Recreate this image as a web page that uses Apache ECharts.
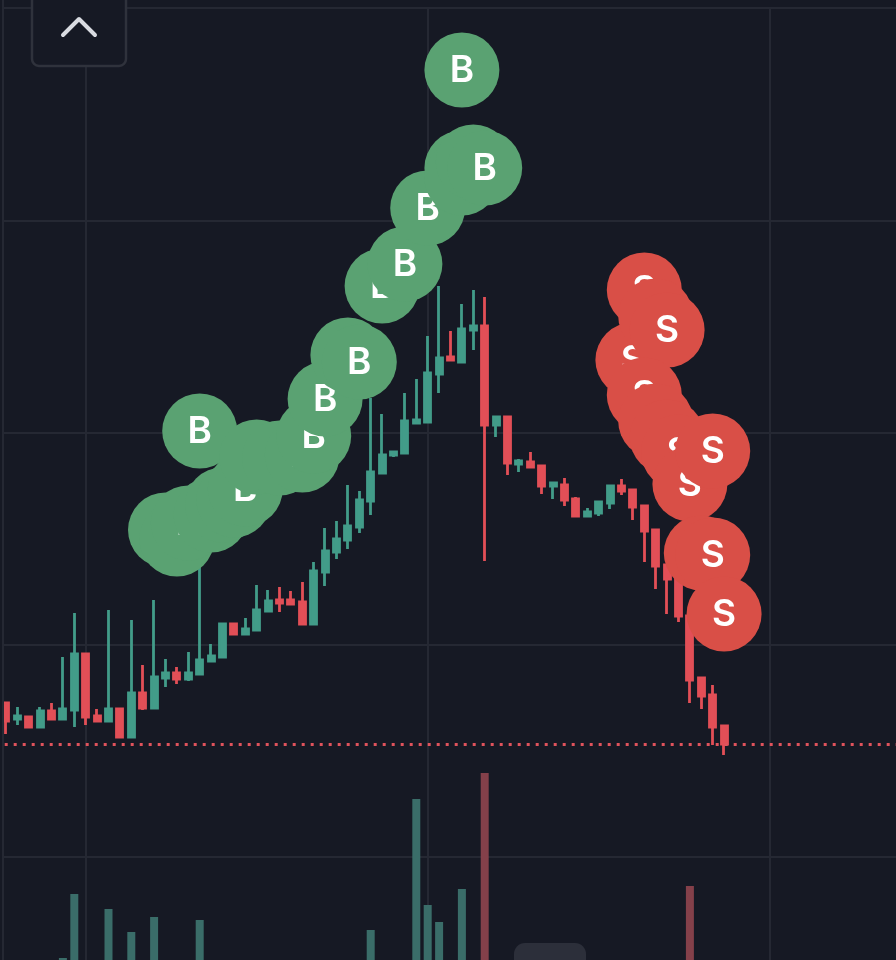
<!DOCTYPE html>
<html>
<head>
<meta charset="utf-8">
<style>
  html, body { margin: 0; padding: 0; background: #161924; }
  #chart { width: 896px; height: 960px; }
</style>
<script src="https://cdn.jsdelivr.net/npm/echarts@6/dist/echarts.min.js"></script>
</head>
<body>
<div id="chart"></div>
<script>
// candles, one entry per bar
var opens = [154, 138, 140, 130, 146, 138, 147, 203, 141, 136, 148, 120, 164, 149, 179, 184, 178, 183, 196, 200, 233, 223, 227, 246, 257, 257, 255, 233, 285, 305, 317, 330, 356, 384, 402, 404, 434, 435, 483, 500, 495, 527, 531, 432, 440, 393, 395, 391, 371, 372, 358, 341, 344, 354, 371, 367, 351, 327, 292, 279, 241, 179, 162, 131];
var closes = [136, 141, 130, 146, 138, 148, 203, 140, 136, 148, 120, 164, 149, 180, 184, 178, 184, 197, 201, 233, 223, 228, 247, 256, 254, 253, 233, 286, 306, 318, 331, 357, 385, 402, 405, 436, 437, 484, 499, 497, 528, 531, 432, 440, 394, 396, 390, 371, 374, 357, 341, 345, 355, 371, 366, 350, 326, 291, 278, 241, 177, 161, 130, 113];
var lows = [123, 132, 130, 130, 138, 138, 130, 132, 136, 136, 120, 120, 147, 149, 170, 173, 176, 183, 196, 200, 223, 222, 226, 246, 245, 252, 233, 233, 271, 298, 308, 324, 342, 383, 400, 404, 433, 435, 464, 497, 495, 507, 296, 420, 382, 385, 390, 363, 358, 351, 341, 341, 341, 348, 362, 337, 295, 268, 243, 235, 154, 148, 112, 102];
var highs = [154, 150, 140, 150, 154, 200, 244, 203, 148, 247, 148, 237, 192, 257, 198, 190, 205, 292, 213, 233, 233, 239, 272, 267, 270, 266, 275, 295, 329, 336, 372, 366, 459, 443, 405, 464, 478, 521, 571, 526, 553, 567, 560, 440, 440, 398, 405, 391, 375, 379, 360, 349, 355, 371, 378, 367, 351, 327, 292, 279, 241, 179, 172, 131];

// volume, only the bars that reach into the picture
var volumes = [null, null, null, null, null, 42, 106, null, null, 91, null, 68, null, 83, null, null, null, 80, null, null, null, null, null, null, null, null, null, null, null, null, null, null, 70, null, null, null, 201, 95, 78, null, 111, null, 227, null, null, null, null, null, null, null, null, null, null, null, null, null, null, null, null, null, 114, null, null, null];

// buy / sell bubbles: bar number and price, in drawing order
var buyBars = [14, 15, 16, 18, 19, 20, 21, 17, 22, 24, 26, 27, 28, 30, 31, 33, 35, 37, 40, 40, 41, 42, 40];
var buyPrices = [327, 318, 334, 342, 352, 357, 368, 426, 400, 399, 402, 421, 458, 502, 495, 571, 593, 649, 689, 679, 695, 689, 787];
var sellBars = [55, 56, 57, 58, 56, 57, 58, 59, 60, 62, 61, 62, 63];
var sellPrices = [497, 567, 541, 527, 462, 436, 420, 405, 373, 406, 304, 302, 243];

var firstBar = 23; // bar number of the first candle on the time axis
var upColor = '#429c89';
var downColor = '#e24f57';

var candleData = opens.map(function (o, i) {
  return [i + firstBar, o, closes[i], lows[i], highs[i]];
});
var volumeData = volumes.map(function (v, i) {
  return {
    value: [i + firstBar, v],
    itemStyle: { color: closes[i] >= opens[i] ? '#3a6d69' : '#84404a' }
  };
});

function bubbleData(bars, prices) {
  return bars.map(function (b, i) {
    return [b + firstBar, prices[i]];
  });
}

// bubbles are drawn one after the other so that later ones cover earlier letters
function bubbleRender(letter, color) {
  return function (params, api) {
    var p = api.coord([api.value(0), api.value(1)]);
    return {
      type: 'group',
      children: [{
        type: 'circle',
        shape: { cx: p[0], cy: p[1], r: 37.5 },
        style: { fill: color }
      }, {
        type: 'text',
        style: {
          x: p[0],
          y: p[1] + 1,
          text: letter,
          fill: '#ffffff',
          font: '600 37px Inter',
          align: 'center',
          verticalAlign: 'middle'
        }
      }]
    };
  };
}

var gridColor = '#252833';
var myChart = echarts.init(document.getElementById('chart'));

var option = {
  animation: false,
  backgroundColor: '#161924',
  grid: [
    { left: -256.3, top: 8, width: 1162.8, height: 1061.25, outerBoundsMode: 'none' },
    { left: -256.3, top: 760, width: 1162.8, height: 240, outerBoundsMode: 'none' }
  ],
  xAxis: [{
    type: 'value',
    gridIndex: 0,
    min: 0,
    max: 102,
    interval: 30,
    axisLine: { show: false },
    axisTick: { show: false },
    axisLabel: { show: false },
    splitLine: { show: true, lineStyle: { color: gridColor, width: 2 } }
  }, {
    type: 'value',
    gridIndex: 1,
    min: 0,
    max: 102,
    interval: 30,
    axisLine: { show: false },
    axisTick: { show: false },
    axisLabel: { show: false },
    splitLine: { show: false }
  }],
  yAxis: [{
    type: 'value',
    gridIndex: 0,
    min: -212.25,
    max: 849,
    interval: 212.25,
    axisLine: { show: false },
    axisTick: { show: false },
    axisLabel: { show: false },
    splitLine: { show: true, lineStyle: { color: gridColor, width: 2 } }
  }, {
    type: 'value',
    gridIndex: 1,
    min: 0,
    max: 240,
    axisLine: { show: false },
    axisTick: { show: false },
    axisLabel: { show: false },
    splitLine: { show: false }
  }],
  series: [{
    type: 'bar',
    xAxisIndex: 1,
    yAxisIndex: 1,
    barWidth: 8,
    data: volumeData,
    z: 1
  }, {
    type: 'candlestick',
    xAxisIndex: 0,
    yAxisIndex: 0,
    barWidth: 6.5,
    data: candleData,
    itemStyle: {
      color: upColor,
      color0: downColor,
      borderColor: upColor,
      borderColor0: downColor,
      borderWidth: 2.8
    },
    markLine: {
      silent: true,
      symbol: 'none',
      label: { show: false },
      lineStyle: { color: '#e0535c', type: [3, 6], width: 3, opacity: 1 },
      data: [{ yAxis: closes[closes.length - 1] }]
    },
    z: 3
  }, {
    type: 'custom',
    xAxisIndex: 0,
    yAxisIndex: 0,
    data: bubbleData(buyBars, buyPrices),
    renderItem: bubbleRender('B', '#5aa272'),
    clip: false,
    z: 5
  }, {
    type: 'custom',
    xAxisIndex: 0,
    yAxisIndex: 0,
    data: bubbleData(sellBars, sellPrices),
    renderItem: bubbleRender('S', '#d94f47'),
    clip: false,
    z: 5
  }],
  graphic: [
    // chart edge on the left
    { type: 'rect', z: 100, shape: { x: 0, y: 0, width: 4, height: 960 }, style: { fill: '#161924' } },
    { type: 'rect', z: 101, shape: { x: 2, y: 0, width: 2, height: 960 }, style: { fill: gridColor } },
    // collapse button
    {
      type: 'rect',
      z: 100,
      shape: { x: 32, y: -12, width: 94, height: 78, r: 7 },
      style: { fill: '#161924', stroke: '#2f323c', lineWidth: 2.5 }
    },
    {
      type: 'polyline',
      z: 101,
      shape: { points: [[63, 35], [79, 19], [95, 35]] },
      style: { fill: 'none', stroke: '#d9dbe1', lineWidth: 4, lineCap: 'round', lineJoin: 'round' }
    },
    // handle at the bottom
    {
      type: 'rect',
      z: 100,
      shape: { x: 514, y: 943, width: 72, height: 40, r: 11 },
      style: { fill: '#2c2f3a' }
    }
  ]
};
myChart.setOption(option);
</script>
</body>
</html>
